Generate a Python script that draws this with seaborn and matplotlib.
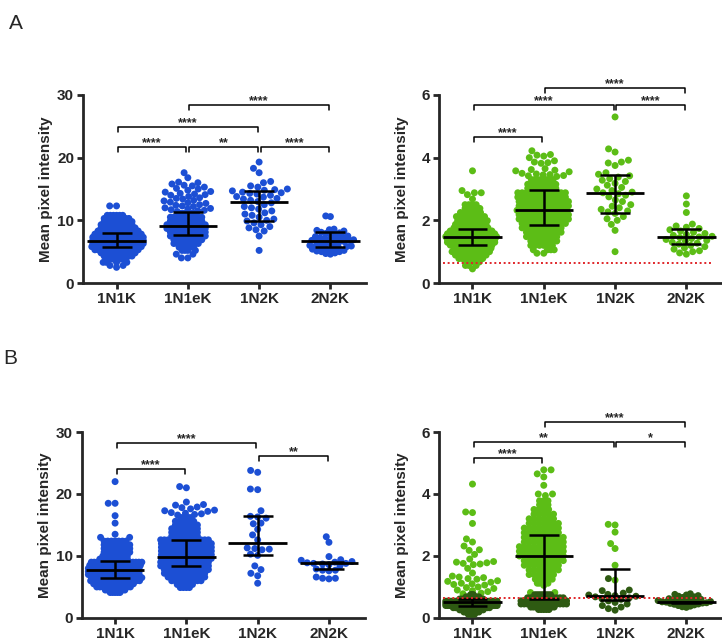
import numpy as np
import pandas as pd
import matplotlib
matplotlib.use('Agg')
import matplotlib.pyplot as plt
import seaborn as sns

CATEGORIES = ['1N1K', '1N1eK', '1N2K', '2N2K']

# panel A, left: row values and number of dots on each row
A1_1N1K_V = [12.3, 10.8, 10.3, 9.8, 9.3, 8.8, 8.3, 7.8, 7.3, 6.8, 6.3, 5.8, 5.3, 4.8, 4.3, 3.8, 3.3, 2.8, 2.5]
A1_1N1K_N = [2, 6, 9, 10, 11, 12, 14, 16, 18, 18, 18, 17, 15, 12, 10, 7, 4, 2, 1]
A1_1N1EK_V = [17.6, 16.8, 16.1, 16.0, 15.8, 15.6, 15.5, 15.3, 15.1, 15.0, 14.8, 14.6, 14.5, 14.3, 14.2,
              14.1, 14.0, 13.8, 13.6, 13.5, 13.4, 13.2, 13.1, 12.9, 12.8, 12.7, 12.5, 12.4, 12.3, 12.2,
              12.0, 11.9, 11.8, 11.7, 11.6, 11.5, 11.4,
              11.1, 10.5, 9.9, 9.3, 8.7, 8.1, 7.5, 6.9, 6.3, 5.7, 5.2, 4.6, 4.0]
A1_1N1EK_N = [1] * 37 + [9, 10, 10, 12, 12, 11, 11, 9, 8, 6, 4, 2, 2]
A1_1N2K_V = [19.3, 18.3, 17.6, 16.2, 16.0, 15.5, 15.3, 15.0, 14.9, 14.8, 14.7, 14.5, 14.4, 14.3, 14.2,
             14.0, 13.8, 13.7, 13.5, 13.4, 13.2, 13.0, 12.8, 12.5, 12.2, 12.0, 11.8, 11.5, 11.2, 11.0,
             10.8, 10.5, 10.2, 10.0, 9.9, 9.6, 9.3, 9.0, 8.8, 8.5, 8.3, 7.5, 5.2]
A1_1N2K_N = [1] * len(A1_1N2K_V)
A1_2N2K_V = [10.7, 10.6, 8.6, 8.5, 8.4, 8.3, 8.1, 8.0, 7.9, 7.8, 7.5, 7.4, 7.3, 7.2, 7.1, 7.0, 6.9,
             6.8, 6.7, 6.6, 6.5, 6.4, 6.3, 6.0, 5.9, 5.8, 5.7, 5.6, 5.4, 5.3, 5.2, 5.1, 5.0, 4.8, 4.7, 4.6]
A1_2N2K_N = [1, 1, 1, 1, 1, 1, 1, 1, 2, 1, 1, 1, 2, 1, 2, 1, 1, 2, 1, 2, 1, 2, 1, 1, 2, 1, 2, 2,
             1, 1, 1, 1, 2, 1, 1, 1]
A1_MEDIAN = [6.7, 9.1, 13.0, 6.7]
A1_Q1 = [5.7, 7.6, 9.9, 5.8]
A1_Q3 = [8.0, 11.3, 14.7, 8.1]
A1_PAIRS = [(1, 3, 28.4, '****'), (0, 2, 24.9, '****'), (0, 1, 21.7, '****'),
            (1, 2, 21.7, '**'), (2, 3, 21.7, '****')]

# panel A, right
A2_1N1K_V = [3.58, 2.95, 2.88, 2.82, 2.68, 2.5, 2.38, 2.25, 2.12, 1.99, 1.87, 1.76, 1.66, 1.57, 1.48,
             1.39, 1.30, 1.21, 1.11, 1.0, 0.89, 0.78, 0.67, 0.56, 0.45]
A2_1N1K_N = [1, 1, 2, 1, 1, 4, 5, 6, 8, 9, 10, 12, 16, 18, 20, 18, 18, 16, 13, 12, 10, 8, 5, 3, 1]
A2_1N1EK_V = [4.22, 4.1, 4.08, 4.05, 4.0, 3.9, 3.86, 3.84, 3.82, 3.65, 3.62, 3.6, 3.58, 3.55, 3.5,
              3.48, 3.46, 3.45, 3.43, 3.42, 3.4,
              3.3, 3.15, 3.02, 2.88, 2.74, 2.60, 2.46, 2.32, 2.18, 2.04, 1.90, 1.76, 1.62, 1.48, 1.34,
              1.20, 1.06, 0.95]
A2_1N1EK_N = [1] * 21 + [8, 8, 8, 12, 12, 13, 13, 14, 13, 13, 11, 10, 9, 8, 7, 6, 4, 2]
A2_1N2K_V = [5.3, 4.28, 4.18, 3.92, 3.86, 3.83, 3.75, 3.52, 3.47, 3.42, 3.38, 3.33, 3.28, 3.24, 3.18,
             3.12, 3.05, 3.0, 2.95, 2.9, 2.88, 2.85, 2.8, 2.75, 2.65, 2.6, 2.5, 2.45, 2.4, 2.35, 2.3,
             2.27, 2.22, 2.12, 2.05, 2.0, 1.87, 1.68, 1.0]
A2_1N2K_N = [1] * len(A2_1N2K_V)
A2_2N2K_V = [2.78, 2.52, 2.25, 1.88, 1.82, 1.78, 1.74, 1.70, 1.66, 1.62, 1.58, 1.55, 1.52, 1.49, 1.47,
             1.45, 1.42, 1.39, 1.36, 1.33, 1.30, 1.27, 1.24, 1.20, 1.16, 1.12, 1.08, 1.03, 1.0, 0.96, 0.92]
A2_2N2K_N = [1] * len(A2_2N2K_V)
A2_MEDIAN = [1.48, 2.32, 2.87, 1.48]
A2_Q1 = [1.22, 1.85, 2.23, 1.25]
A2_Q3 = [1.72, 2.97, 3.45, 1.72]
A2_PAIRS = [(1, 3, 6.22, '****'), (0, 2, 5.68, '****'), (2, 3, 5.68, '****'), (0, 1, 4.66, '****')]

# panel B, left
B1_1N1K_V = [22.0, 18.5, 16.5, 15.3, 13.5, 13.0, 12.4, 11.8, 11.2, 10.6, 10.0, 9.5, 9.0, 8.5, 8.0,
             7.5, 7.0, 6.5, 6.0, 5.5, 5.0, 4.5, 4.1]
B1_1N1K_N = [1, 2, 1, 1, 1, 2, 7, 8, 8, 8, 9, 10, 18, 19, 20, 20, 20, 18, 17, 14, 12, 9, 5]
B1_1N1EK_V = [21.2, 21.0, 18.7, 18.3, 18.2, 17.9, 17.8, 17.6, 17.4, 17.3, 17.2, 17.0, 16.9, 16.8,
              16.7, 16.6,
              16.2, 15.6, 15.0, 14.4, 13.8, 13.2, 12.6, 12.0, 11.4, 10.8, 10.2, 9.6, 9.0, 8.4, 7.8,
              7.2, 6.6, 6.0, 5.4, 4.9]
B1_1N1EK_N = [1] * 16 + [5, 6, 7, 8, 8, 8, 14, 15, 15, 15, 15, 15, 14, 14, 13, 12, 11, 9, 6, 4]
B1_1N2K_V = [23.8, 23.5, 20.8, 20.7, 17.3, 16.4, 16.3, 16.1, 15.3, 15.2, 14.3, 13.4, 12.6, 11.3, 11.2,
             11.1, 11.0, 10.3, 10.1, 8.4, 7.8, 7.2, 6.8, 5.6]
B1_1N2K_N = [1] * len(B1_1N2K_V)
B1_2N2K_V = [13.1, 12.2, 9.9, 9.4, 9.3, 9.1, 9.0, 8.9, 8.8, 8.7, 8.6, 8.4, 7.9, 7.7, 7.6, 6.6, 6.4, 6.3]
B1_2N2K_N = [1, 1, 1, 1, 1, 1, 1, 1, 2, 1, 1, 1, 1, 2, 1, 1, 2, 1]
B1_MEDIAN = [7.8, 9.9, 12.1, 8.8]
B1_Q1 = [6.5, 8.4, 10.2, 7.9]
B1_Q3 = [9.2, 12.6, 16.4, 9.1]
B1_PAIRS = [(0, 2, 28.3, '****'), (2, 3, 26.1, '**'), (0, 1, 24.0, '****')]

# panel B, right: light dots and dark dots
B2_1N1K_LIGHT_V = [4.32, 3.42, 3.4, 3.05, 2.55, 2.45, 2.32, 2.2, 2.18, 2.05, 1.9, 1.82, 1.8, 1.78,
                   1.76, 1.74, 1.72, 1.6, 1.45, 1.35, 1.32, 1.3, 1.27, 1.25, 1.2, 1.18, 1.15, 1.12,
                   1.1, 1.08, 1.06, 1.0, 0.98, 0.95, 0.9, 0.88, 0.85, 0.8, 0.78]
B2_1N1K_LIGHT_N = [1] * len(B2_1N1K_LIGHT_V)
B2_1N1K_DARK_V = [0.75, 0.68, 0.61, 0.54, 0.47, 0.40, 0.33, 0.26, 0.19, 0.12]
B2_1N1K_DARK_N = [4, 7, 12, 26, 30, 26, 18, 12, 8, 4]
B2_1N1EK_LIGHT_V = [4.78, 4.65, 4.55, 4.28, 4.0, 3.95, 3.78, 3.65, 3.5, 3.35, 3.2, 3.05, 2.9, 2.75,
                    2.6, 2.45, 2.3, 2.15, 2.0, 1.85, 1.7, 1.55, 1.4, 1.25, 1.12, 1.05, 0.82]
B2_1N1EK_LIGHT_N = [2, 1, 1, 1, 2, 1, 3, 3, 4, 5, 6, 7, 8, 8, 9, 9, 10, 10, 10, 9, 8, 7, 6, 5, 3, 1, 2]
B2_1N1EK_DARK_V = [0.75, 0.65, 0.55, 0.45, 0.35, 0.27]
B2_1N1EK_DARK_N = [8, 12, 15, 15, 10, 5]
B2_1N2K_LIGHT_V = [3.02, 3.0, 2.77, 2.4, 2.24, 1.7, 1.22]
B2_1N2K_LIGHT_N = [1, 1, 1, 1, 1, 1, 1]
B2_1N2K_DARK_V = [1.27, 0.9, 0.88, 0.8, 0.76, 0.74, 0.72, 0.7, 0.68, 0.65, 0.62, 0.6, 0.55, 0.5,
                  0.45, 0.4, 0.35, 0.3, 0.25]
B2_1N2K_DARK_N = [1] * len(B2_1N2K_DARK_V)
B2_2N2K_DARK_V = [0.78, 0.76, 0.74, 0.72, 0.70, 0.68, 0.66, 0.64, 0.62, 0.60, 0.58, 0.57, 0.56, 0.55,
                  0.54, 0.53, 0.52, 0.51, 0.50, 0.49, 0.48, 0.47, 0.46, 0.45, 0.44, 0.42, 0.40, 0.38,
                  0.36, 0.34]
B2_2N2K_DARK_N = [1, 1, 1, 1, 1, 1, 1, 1, 1, 2, 1, 1, 1, 1, 1, 1, 1, 1, 2, 1, 1, 1, 1, 1, 1, 1, 1, 1, 1, 1]
B2_MEDIAN = [0.5, 2.0, 0.72, 0.5]
B2_Q1 = [0.4, 0.62, 0.58, 0.48]
B2_Q3 = [0.6, 2.68, 1.58, 0.52]
B2_PAIRS = [(1, 3, 6.33, '****'), (0, 2, 5.69, '**'), (2, 3, 5.69, '*'), (0, 1, 5.16, '****')]

THRESHOLD = 0.65

BLUE = '#1c4fd4'
GREEN = '#5cbd16'
DARK_GREEN = '#2e5a12'
DOT = 5.0
PX = 100 / 72

sns.set_theme(style='ticks')
plt.rcParams['font.family'] = ['Liberation Sans', 'DejaVu Sans']
plt.rcParams['font.weight'] = 'bold'
plt.rcParams['axes.labelweight'] = 'bold'


def make_frame(groups):
    parts = []
    for cat, levels, counts, shade in groups:
        parts.append(pd.DataFrame({'cat': cat, 'value': np.repeat(levels, counts), 'shade': shade}))
    return pd.concat(parts, ignore_index=True)


def draw_panel(ax, frame, ymax, med, q1, q3, pairs, palette, threshold=False):
    before = len(ax.collections)
    sns.swarmplot(data=frame, x='cat', y='value', hue='shade', palette=palette, order=CATEGORIES,
                  size=DOT, linewidth=0, legend=False, warn_thresh=1.0, ax=ax)
    cols = [(ax, c) for c in ax.collections[before:]]

    x = np.arange(len(CATEGORIES))
    ax.hlines(med, x - 0.41, x + 0.41, color='black', lw=2.0, zorder=5)
    ax.vlines(x, q1, q3, color='black', lw=1.8, zorder=5)
    ax.hlines(q1, x - 0.21, x + 0.21, color='black', lw=1.8, zorder=5)
    ax.hlines(q3, x - 0.21, x + 0.21, color='black', lw=1.8, zorder=5)

    if threshold:
        ax.plot([-0.41, 3.35], [THRESHOLD, THRESHOLD], color='#e0262a', lw=1.4,
                ls=(0, (1, 1.4)), zorder=6)

    leg = ymax * 5 / 188
    for i, j, h, stars in pairs:
        ax.plot([i + 0.02, i + 0.02, j - 0.02, j - 0.02], [h - leg, h, h, h - leg],
                color='black', lw=1.1, clip_on=False, zorder=6)
        ax.text((i + j) / 2, h + ymax * 0.6 / 188, stars, ha='center', va='baseline',
                fontsize=9, clip_on=False)

    ax.set_xlim(-0.47, 3.5)
    ax.set_ylim(0, ymax)
    ax.set_yticks(np.linspace(0, ymax, 4))
    ax.set_xlabel('')
    ax.set_ylabel('Mean pixel intensity', fontsize=11)
    ax.yaxis.set_label_coords(-0.105, 0.5)
    sns.despine(ax=ax)
    for side in ['left', 'bottom']:
        ax.spines[side].set_linewidth(2.0)
    ax.tick_params(width=2.0, length=4.5, labelsize=11, pad=2)
    return cols


def layout_sizes(ax, coll):
    # crowded rows are packed with a smaller dot so that the full-size dots overlap like the original
    box = ax.get_window_extent()
    px_unit = box.height / ax.get_ylim()[1]
    row_px = 0.8 * box.width / (ax.get_xlim()[1] - ax.get_xlim()[0])
    y = coll.get_offsets()[:, 1]
    levels, counts = np.unique(y, return_counts=True)
    diam = np.minimum(DOT * PX, 0.95 * row_px / counts)
    gaps = np.diff(levels) * px_unit
    for k, c in enumerate(counts):
        if c >= 3:
            near = [gaps[k - 1]] if k > 0 else []
            if k < len(gaps):
                near.append(gaps[k])
            if near:
                diam[k] = min(diam[k], min(near))
    d = diam[np.searchsorted(levels, y)]
    return (d / PX) ** 2


fig = plt.figure(figsize=(7.22, 6.41), dpi=100)
ax_a1 = fig.add_axes([0.115, 0.5585, 0.392, 0.2933])
ax_a2 = fig.add_axes([0.608, 0.5585, 0.392, 0.2933])
ax_b1 = fig.add_axes([0.113, 0.036, 0.392, 0.290])
ax_b2 = fig.add_axes([0.608, 0.036, 0.392, 0.290])

a1 = make_frame([('1N1K', A1_1N1K_V, A1_1N1K_N, 'blue'), ('1N1eK', A1_1N1EK_V, A1_1N1EK_N, 'blue'),
                 ('1N2K', A1_1N2K_V, A1_1N2K_N, 'blue'), ('2N2K', A1_2N2K_V, A1_2N2K_N, 'blue')])
a2 = make_frame([('1N1K', A2_1N1K_V, A2_1N1K_N, 'light'), ('1N1eK', A2_1N1EK_V, A2_1N1EK_N, 'light'),
                 ('1N2K', A2_1N2K_V, A2_1N2K_N, 'light'), ('2N2K', A2_2N2K_V, A2_2N2K_N, 'light')])
b1 = make_frame([('1N1K', B1_1N1K_V, B1_1N1K_N, 'blue'), ('1N1eK', B1_1N1EK_V, B1_1N1EK_N, 'blue'),
                 ('1N2K', B1_1N2K_V, B1_1N2K_N, 'blue'), ('2N2K', B1_2N2K_V, B1_2N2K_N, 'blue')])
b2 = make_frame([('1N1K', B2_1N1K_LIGHT_V, B2_1N1K_LIGHT_N, 'light'),
                 ('1N1K', B2_1N1K_DARK_V, B2_1N1K_DARK_N, 'dark'),
                 ('1N1eK', B2_1N1EK_LIGHT_V, B2_1N1EK_LIGHT_N, 'light'),
                 ('1N1eK', B2_1N1EK_DARK_V, B2_1N1EK_DARK_N, 'dark'),
                 ('1N2K', B2_1N2K_LIGHT_V, B2_1N2K_LIGHT_N, 'light'),
                 ('1N2K', B2_1N2K_DARK_V, B2_1N2K_DARK_N, 'dark'),
                 ('2N2K', B2_2N2K_DARK_V, B2_2N2K_DARK_N, 'dark')])

swarms = []
swarms += draw_panel(ax_a1, a1, 30, A1_MEDIAN, A1_Q1, A1_Q3, A1_PAIRS, {'blue': BLUE})
swarms += draw_panel(ax_a2, a2, 6, A2_MEDIAN, A2_Q1, A2_Q3, A2_PAIRS, {'light': GREEN}, threshold=True)
swarms += draw_panel(ax_b1, b1, 30, B1_MEDIAN, B1_Q1, B1_Q3, B1_PAIRS, {'blue': BLUE})
swarms += draw_panel(ax_b2, b2, 6, B2_MEDIAN, B2_Q1, B2_Q3, B2_PAIRS,
                     {'light': GREEN, 'dark': DARK_GREEN}, threshold=True)

fig.text(0.012, 0.978, 'A', fontsize=15, fontweight='normal', va='top')
fig.text(0.004, 0.455, 'B', fontsize=15, fontweight='normal', va='top')

# lay the swarms out with smaller dots until nothing spills into the gutter,
# then draw the dots at full size so that they overlap as in the original
centers = [round(coll.get_offsets()[0, 0]) for _, coll in swarms]
base = [layout_sizes(ax, coll) for ax, coll in swarms]
scale = [1.0] * len(swarms)
for _ in range(40):
    for k, (ax, coll) in enumerate(swarms):
        off = coll.get_offsets().copy()
        off[:, 0] = centers[k]
        coll.set_offsets(off)
        coll.set_sizes(base[k] * scale[k] ** 2)
    fig.canvas.draw()
    spilled = False
    for k, (ax, coll) in enumerate(swarms):
        if np.abs(coll.get_offsets()[:, 0] - centers[k]).max() > 0.397:
            scale[k] *= 0.94
            spilled = True
    if not spilled:
        break

for ax, coll in swarms:
    coll.__dict__.pop('draw', None)
    coll.set_sizes([DOT ** 2])

fig.savefig('out.png', dpi=100)
